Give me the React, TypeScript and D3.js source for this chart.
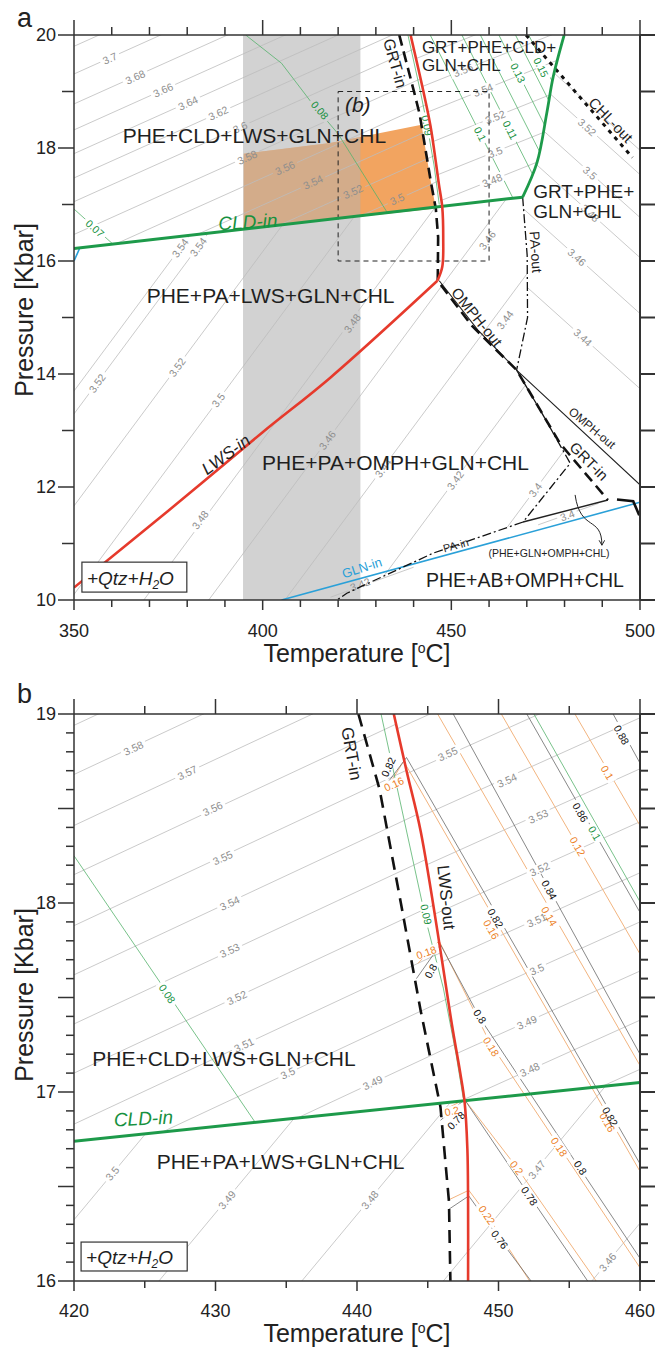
import React from 'react';
import * as d3 from 'd3';

type Pt = [number, number];
type Iso = { t: string; T: number; P: number; s?: number; a?: number };
type Txt = { t: string; T: number; P: number; a?: number; size: number; color?: string; italic?: boolean; anchor?: string; central?: boolean };

const W = 657;
const H = 1349;
const FONT = '"Liberation Sans", Arial, Helvetica, sans-serif';

const C_GRAY_LINE = '#bcbcbc';
const C_GRAY_TXT = '#8e8e8e';
const C_GREEN = '#1d9a4a';
const C_GREEN_THIN = '#55b36c';
const C_GREEN_TXT = '#17913f';
const C_RED = '#e63a2c';
const C_BLUE = '#2aa0d8';
const C_ORANGE_LINE = '#f2b47f';
const C_ORANGE_TXT = '#ec7f1f';
const C_INK = '#1f1f1f';

// ================= PANEL A =================
const aTempDomain: Pt = [350, 500];
const aPresDomain: Pt = [10, 20];
const aTempTicks = d3.range(350, 501, 10);
const aTempMajor = [350, 400, 450, 500];
const aPresTicks = d3.range(10, 21, 1);
const aPresLabels = [10, 12, 14, 16, 18, 20];

const aGrayBand: Pt = [394.8, 425.9];
const aOrange: Pt[] = [[395, 17.9], [417.9, 18.09], [442.1, 18.41], [444.5, 17.43], [445.9, 16.93], [395, 16.565]];

const aCldIn: Pt[] = [[350, 16.22], [468.9, 17.13]];
const aCldOut: Pt[] = [[468.9, 17.13], [472.7, 17.74], [475.3, 18.62], [477, 19.26], [479.9, 20]];
const aChlOut: Pt[] = [[469.8, 20], [498, 17.83]];
const aLwsIn: Pt[] = [[350, 10.22], [375, 11.58], [400, 12.97], [418, 13.94], [446.3, 15.65]];
const aLwsOut: Pt[] = [[446.3, 15.65], [447.6, 15.9], [447.85, 16.4], [447.6, 16.95], [446.7, 17.36], [446.0, 17.7], [444.5, 18.38], [442.6, 19.0], [439.2, 20]];
const aGrtIn: Pt[] = [[436.2, 20], [440.1, 19], [441.6, 18.6], [444.5, 17.43], [445.9, 16.92], [446.5, 16.42], [446.4, 15.65], [455.5, 14.85], [467.3, 14.07], [478.8, 12.77], [491.5, 11.77]];
const aGrtInEnd: Pt[] = [[493.9, 11.78], [498.2, 11.75], [499.8, 11.5]];
const aOmphOut: Pt[] = [[446.8, 15.65], [457, 14.78], [467.3, 14.07], [500, 12.04]];
const aPaLine: Pt[] = [[468.9, 17.13], [470.1, 16.1], [470.2, 15.0], [467.3, 14.07], [474.5, 13.25], [481.5, 12.42], [469, 11.38], [445.2, 10.83], [422.3, 10.12], [419.7, 10.0]];
const aSmallField: Pt[] = [[469, 11.38], [491.5, 11.77]];
const aGlnIn: Pt[] = [[405, 10.0], [500, 11.73]];
const aGlnCorner: Pt[] = [[350, 16.0], [351.6, 16.24]];
const aInset: Pt[] = [[420, 16], [460, 19]];
const aArrow: Pt[] = [[482.8, 11.86], [484.2, 11.2], [489.9, 11.5], [489.9, 10.97]];
const aQtzBox: Pt[] = [[352.1, 10.67], [379.9, 10.14]];

// density isopleth families (anchor points + common slope dP/dT)
const aUpperSlope = 0.03;
const aUpperAnchors: Pt[] = [20.3, 19.8, 19.31, 18.78, 18.32, 17.9, 17.47, 17.05, 16.47, 15.97, 15.49, 15.0, 14.52].map(p => [350, p] as Pt);
const aUpperClip: Pt[] = [[350, 16.22], [350, 20], [439.2, 20], [442.6, 19], [444.5, 18.38], [446, 17.7], [446.7, 17.36], [447.4, 16.97]];

const aGrtSlope = 0.0267;
const aGrtAnchors: Pt[] = [20.1, 19.56, 19.07, 18.51, 17.89, 17.41].map(p => [460, p] as Pt);
const aGrtClip: Pt[] = [[439.2, 20], [442.6, 19], [444.5, 18.38], [446, 17.7], [446.7, 17.36], [447.4, 16.97], [468.9, 17.13], [472.7, 17.74], [475.3, 18.62], [477, 19.26], [479.9, 20]];

const aSteepSlope = 0.09;
const aSteepAnchors: Pt[] = [308.9, 313.4, 331.5, 348.9, 368.5, 385.7, 405.9, 427.4, 450.5].map(t => [t, 10] as Pt);
const aSteepClip: Pt[] = [[350, 10], [350, 16.22], [468.9, 17.13], [470.1, 16.1], [470.2, 15.0], [467.3, 14.07], [481.5, 12.42], [469, 11.38], [445.2, 10.83], [422.3, 10.12], [419.7, 10]];

const aRightSlope = -0.06;
const aRightAnchors: Pt[] = [17.96, 17.53, 16.77, 16.06, 15.07, 13.74].map(p => [500, p] as Pt);
const aRightClip: Pt[] = [[468.9, 17.13], [472.7, 17.74], [475.3, 18.62], [477, 19.26], [479.9, 20], [500, 20], [500, 12.04], [467.3, 14.07], [470.2, 15.0], [470.1, 16.1]];

const aLowSegs: Pt[][] = [[[418, 10.05], [440, 10.58]], [[473, 11.33], [489, 11.71]]];

// CLD isopleths (green)
const aGreenSlope = -0.1316;
const aGreenAnchors: Pt[] = [444.4, 452.8, 457.7, 462.6, 467.0, 470.5].map(t => [t, 20] as Pt);
const aGreen007: Pt[] = [[350, 16.92], [360.3, 16.3]];
const aGreen008: Pt[] = [[395.5, 20], [405, 19.5], [413, 18.8], [420, 18.25], [433, 16.86]];
const aGreen009: Pt[] = [[438.5, 20], [441.8, 19], [443.6, 18.4], [445.4, 17.7], [446.8, 17.0]];

const aGrayLabels: Iso[] = [
  { t: '3.7', T: 359.5, P: 19.59, s: aUpperSlope }, { t: '3.68', T: 366.2, P: 19.26, s: aUpperSlope },
  { t: '3.66', T: 373.6, P: 19.03, s: aUpperSlope }, { t: '3.64', T: 380.2, P: 18.8, s: aUpperSlope },
  { t: '3.62', T: 388.2, P: 18.62, s: aUpperSlope }, { t: '3.6', T: 394, P: 18.37, s: aUpperSlope },
  { t: '3.58', T: 395.9, P: 17.84, s: aUpperSlope }, { t: '3.56', T: 405.9, P: 17.65, s: aUpperSlope },
  { t: '3.54', T: 413.3, P: 17.4, s: aUpperSlope }, { t: '3.52', T: 423.9, P: 17.23, s: aUpperSlope },
  { t: '3.5', T: 435.6, P: 17.1, s: aUpperSlope },
  { t: '3.56', T: 453.1, P: 19.38, s: aGrtSlope }, { t: '3.54', T: 458.4, P: 19.03, s: aGrtSlope },
  { t: '3.52', T: 461.6, P: 18.55, s: aGrtSlope }, { t: '3.5', T: 461.6, P: 17.93, s: aGrtSlope },
  { t: '3.48', T: 460.8, P: 17.43, s: aGrtSlope },
  { t: '3.54', T: 378.1, P: 16.23, s: aSteepSlope }, { t: '3.54', T: 382.9, P: 16.25, s: aSteepSlope },
  { t: '3.52', T: 356.1, P: 13.84, s: aSteepSlope }, { t: '3.52', T: 377.3, P: 14.12, s: aSteepSlope },
  { t: '3.5', T: 388.2, P: 13.54, s: aSteepSlope }, { t: '3.48', T: 383.4, P: 11.42, s: aSteepSlope },
  { t: '3.48', T: 423.7, P: 14.9, s: aSteepSlope }, { t: '3.46', T: 417.1, P: 12.83, s: aSteepSlope },
  { t: '3.46', T: 459.5, P: 16.37, s: aSteepSlope }, { t: '3.44', T: 431.9, P: 12.34, s: aSteepSlope },
  { t: '3.44', T: 464.2, P: 14.96, s: aSteepSlope }, { t: '3.42', T: 451, P: 12.12, s: aSteepSlope },
  { t: '3.4', T: 472.2, P: 11.95, s: aSteepSlope },
  { t: '3.52', T: 486, P: 18.37, s: aRightSlope }, { t: '3.5', T: 486.8, P: 17.56, s: aRightSlope },
  { t: '3.48', T: 486.8, P: 16.85, s: aRightSlope }, { t: '3.46', T: 483.3, P: 16.07, s: aRightSlope },
  { t: '3.44', T: 484.9, P: 14.65, s: aRightSlope },
  { t: '3.42', T: 425.8, P: 10.28, s: 0.024 }, { t: '3.4', T: 480.7, P: 11.5, s: 0.024 },
];
const aGreenLabels: Iso[] = [
  { t: '0.07', T: 355.6, P: 16.58, s: -0.06 }, { t: '0.08', T: 415.2, P: 18.67, s: -0.0786 },
  { t: '0.09', T: 443.6, P: 18.4, s: -0.36 }, { t: '0.1', T: 457.7, P: 18.25, s: aGreenSlope },
  { t: '0.11', T: 465.6, P: 18.32, s: aGreenSlope }, { t: '0.13', T: 467.7, P: 19.33, s: aGreenSlope },
  { t: '0.15', T: 473.8, P: 19.43, s: aGreenSlope },
];

const aFieldTexts: Txt[] = [
  { t: 'PHE+CLD+LWS+GLN+CHL', T: 397.8, P: 18.09, size: 21 },
  { t: 'PHE+PA+LWS+GLN+CHL', T: 402.1, P: 15.26, size: 21 },
  { t: 'PHE+PA+OMPH+GLN+CHL', T: 435.2, P: 12.3, size: 21 },
  { t: 'PHE+AB+OMPH+CHL', T: 469.5, P: 10.23, size: 19.5 },
  { t: '(PHE+GLN+OMPH+CHL)', T: 475.9, P: 10.76, size: 10.5 },
  { t: 'GRT+PHE+CLD+', T: 442.2, P: 19.68, size: 17, anchor: 'start' },
  { t: 'GLN+CHL', T: 442.2, P: 19.36, size: 17, anchor: 'start' },
  { t: 'GRT+PHE+', T: 471.7, P: 17.12, size: 19, anchor: 'start' },
  { t: 'GLN+CHL', T: 471.7, P: 16.76, size: 19, anchor: 'start' },
  { t: '(b)', T: 421.8, P: 18.64, size: 21, anchor: 'start', italic: true },
];
const aLineTexts: Txt[] = [
  { t: 'CLD-in', T: 396.1, P: 16.69, a: -3.5, size: 19, color: C_GREEN_TXT, italic: true },
  { t: 'LWS-in', T: 390.3, P: 12.57, a: -36, size: 17, italic: true },
  { t: 'GRT-in', T: 435.1, P: 19.5, a: 74, size: 16 },
  { t: 'CHL-out', T: 492.3, P: 18.5, a: 46, size: 15 },
  { t: 'PA-out', T: 472.4, P: 16.16, a: 86, size: 14 },
  { t: 'OMPH-out', T: 456.8, P: 15.01, a: 51, size: 15 },
  { t: 'OMPH-out', T: 487.3, P: 13.04, a: 40, size: 12 },
  { t: 'GRT-in', T: 486.5, P: 12.46, a: 45, size: 15 },
  { t: 'PA-in', T: 451.2, P: 10.97, a: -15, size: 11 },
  { t: 'GLN-in', T: 426.3, P: 10.57, a: -18, size: 13, color: C_BLUE },
];

// ================= PANEL B =================
const bTempDomain: Pt = [420, 460];
const bPresDomain: Pt = [16, 19];
const bTempTicks = d3.range(420, 461, 5);
const bTempMajor = [420, 430, 440, 450, 460];
const bPresTicks = d3.range(160, 191, 1).map(v => v / 10);
const bPresLabels = [16, 17, 18, 19];

const bCldIn: Pt[] = [[420, 16.74], [460, 17.05]];
const bLwsOut: Pt[] = [[442.6, 19], [443.5, 18.7], [444.5, 18.38], [446.0, 17.7], [446.7, 17.36], [447.3, 17.1], [447.6, 16.95], [447.8, 16.7], [447.85, 16.42], [447.85, 16.0]];
const bGrtIn: Pt[] = [[440.1, 19], [441.6, 18.6], [443.1, 18.0], [444.5, 17.43], [445.9, 16.92], [446.5, 16.42], [446.6, 16.0]];
const bQtzBox: Pt[] = [[420.5, 16.206], [428.0, 16.053]];

const bUpperSlope = 0.035;
const bUpperAnchors: Pt[] = [18.94, 18.68, 18.41, 18.15, 17.88, 17.62, 17.36, 17.1, 16.83, 16.57, 16.31].map(p => [420, p] as Pt);
const bUpperClip: Pt[] = [[420, 16.74], [420, 19], [442.6, 19], [443.5, 18.7], [444.5, 18.38], [446.0, 17.7], [446.7, 17.36], [447.3, 17.1], [447.6, 16.95]];
const bGrtSlope = 0.0337;
const bGrtAnchors: Pt[] = [19.5, 19.24, 18.98, 18.71, 18.43, 18.16, 17.9, 17.64, 17.38, 17.12].map(p => [460, p] as Pt);
const bGrtClip: Pt[] = [[442.6, 19], [443.5, 18.7], [444.5, 18.38], [446.0, 17.7], [446.7, 17.36], [447.3, 17.1], [447.6, 16.95], [460, 17.05], [460, 19]];
const bSteepSlope = 0.09;
const bSteepAnchors: Pt[] = [416.4, 426.0, 436.1, 446.1, 456.6].map(t => [t, 16] as Pt);
const bSteepClip: Pt[] = [[420, 16], [420, 16.74], [460, 17.05], [460, 16]];

const bOrange: Pt[][] = [
  [[455.4, 19], [460, 18.41]],
  [[450.2, 19], [460, 17.73]],
  [[445.7, 19], [460, 17.14]],
  [[441.9, 18.58], [443.3, 18.75], [460, 16.58]],
  [[444.3, 17.68], [445.8, 17.8], [449.4, 17.26], [454.3, 16.71], [460, 16.07]],
  [[446, 16.9], [447.6, 16.96], [451.3, 16.6], [456.9, 16.0]],
  [[446.5, 16.43], [447.9, 16.48], [449.2, 16.35], [452.2, 16.0]],
];
const bBlack: Pt[][] = [
  [[458.1, 19], [460, 18.74]],
  [[452, 19], [460, 17.95]],
  [[446.8, 19], [460, 17.2]],
  [[441.8, 18.6], [443.5, 18.77], [460, 16.62]],
  [[444.2, 17.6], [445.9, 17.78], [448.7, 17.39], [455.8, 16.59], [460, 16.12]],
  [[445.9, 16.85], [447.6, 16.96], [452.2, 16.45], [456.3, 16.0]],
  [[446.5, 16.38], [447.9, 16.45], [450.1, 16.22], [452.3, 16.0]],
];
const bGreen: Pt[][] = [
  [[420, 18.25], [432.8, 16.84]],
  [[441.7, 19], [443.3, 18.45], [444.9, 17.9], [446.1, 17.55], [447.0, 17.2], [447.5, 16.97]],
  [[452.5, 19], [460.2, 17.98]],
];

const bGrayLabels: Iso[] = [
  { t: '3.58', T: 424.2, P: 18.82, s: bUpperSlope }, { t: '3.57', T: 428.0, P: 18.69, s: bUpperSlope },
  { t: '3.56', T: 429.8, P: 18.5, s: bUpperSlope }, { t: '3.55', T: 430.5, P: 18.24, s: bUpperSlope },
  { t: '3.54', T: 431, P: 18.0, s: bUpperSlope }, { t: '3.53', T: 431, P: 17.75, s: bUpperSlope },
  { t: '3.52', T: 431.5, P: 17.5, s: bUpperSlope }, { t: '3.51', T: 432, P: 17.25, s: bUpperSlope },
  { t: '3.5', T: 435.1, P: 17.1, s: bUpperSlope }, { t: '3.49', T: 441.1, P: 17.05, s: bUpperSlope },
  { t: '3.55', T: 446.4, P: 18.79, s: bGrtSlope }, { t: '3.54', T: 450.6, P: 18.65, s: bGrtSlope },
  { t: '3.53', T: 452.8, P: 18.46, s: bGrtSlope }, { t: '3.52', T: 452.9, P: 18.18, s: bGrtSlope },
  { t: '3.51', T: 452.7, P: 17.91, s: bGrtSlope }, { t: '3.5', T: 452.7, P: 17.65, s: bGrtSlope },
  { t: '3.49', T: 452.0, P: 17.37, s: bGrtSlope }, { t: '3.48', T: 452.2, P: 17.12, s: bGrtSlope },
  { t: '3.5', T: 422.7, P: 16.57, s: bSteepSlope }, { t: '3.49', T: 430.8, P: 16.43, s: bSteepSlope },
  { t: '3.48', T: 440.9, P: 16.43, s: bSteepSlope }, { t: '3.47', T: 452.7, P: 16.59, s: bSteepSlope },
  { t: '3.46', T: 457.7, P: 16.1, s: bSteepSlope },
];
const bOrangeLabels: Iso[] = [
  { t: '0.1', T: 457.7, P: 18.69, s: -0.128 }, { t: '0.12', T: 455.6, P: 18.3, s: -0.13 },
  { t: '0.14', T: 453.6, P: 17.93, s: -0.13 }, { t: '0.16', T: 449.5, P: 17.86, s: -0.13 },
  { t: '0.16', T: 457.7, P: 16.84, s: -0.13 }, { t: '0.16', T: 442.6, P: 18.63, a: -25 },
  { t: '0.18', T: 444.9, P: 17.74, a: -20 }, { t: '0.18', T: 449.5, P: 17.24, s: -0.12 },
  { t: '0.18', T: 454.3, P: 16.71, s: -0.112 }, { t: '0.2', T: 446.7, P: 16.9, a: -12 },
  { t: '0.2', T: 451.3, P: 16.6, s: -0.1 }, { t: '0.22', T: 449.2, P: 16.35, s: -0.11 },
];
const bBlackLabels: Iso[] = [
  { t: '0.88', T: 458.7, P: 18.89, s: -0.137 }, { t: '0.86', T: 455.8, P: 18.48, s: -0.131 },
  { t: '0.84', T: 453.6, P: 18.07, s: -0.136 }, { t: '0.82', T: 449.8, P: 17.92, s: -0.13 },
  { t: '0.82', T: 457.9, P: 16.87, s: -0.13 }, { t: '0.82', T: 442.2, P: 18.72, a: -65 },
  { t: '0.8', T: 448.7, P: 17.4, s: -0.113 }, { t: '0.8', T: 455.8, P: 16.6, s: -0.113 },
  { t: '0.8', T: 445.2, P: 17.64, a: -60 }, { t: '0.78', T: 452.2, P: 16.45, s: -0.11 },
  { t: '0.78', T: 447.0, P: 16.85, a: -45 }, { t: '0.76', T: 450.1, P: 16.22, s: -0.1 },
];
const bGreenLabels: Iso[] = [
  { t: '0.08', T: 426.6, P: 17.52, s: -0.11 }, { t: '0.09', T: 444.9, P: 17.94, s: -0.33 },
  { t: '0.1', T: 456.8, P: 18.37, s: -0.132 },
];
const bFieldTexts: Txt[] = [
  { t: 'PHE+CLD+LWS+GLN+CHL', T: 430.6, P: 17.14, size: 21 },
  { t: 'PHE+PA+LWS+GLN+CHL', T: 434.6, P: 16.59, size: 21 },
];
const bLineTexts: Txt[] = [
  { t: 'CLD-in', T: 424.9, P: 16.86, a: -3, size: 19, color: C_GREEN_TXT, italic: true },
  { t: 'GRT-in', T: 439.6, P: 18.79, a: 80, size: 17 },
  { t: 'LWS-out', T: 446.3, P: 18.03, a: 84, size: 17 },
];

// ================= helpers =================
type Scale = d3.ScaleLinear<number, number>;

const through = (anchors: Pt[], s: number, t0: number, t1: number): Pt[][] =>
  anchors.map(([T, P]) => [[t0, P + s * (t0 - T)], [t1, P + s * (t1 - T)]] as Pt[]);

function mkLine(x: Scale, y: Scale) {
  return d3.line<Pt>().x(d => x(d[0])).y(d => y(d[1]));
}

function isoAngle(x: Scale, y: Scale, l: Iso) {
  if (l.a !== undefined) return l.a;
  const dx = x(l.T + 1) - x(l.T);
  const dy = y(l.P + (l.s || 0)) - y(l.P);
  return (Math.atan2(dy, dx) * 180) / Math.PI;
}

const ISO_SIZE = 10.5;

function MaskRects({ x, y, labels }: { x: Scale; y: Scale; labels: Iso[] }) {
  return (
    <>
      {labels.map((l, i) => {
        const w = l.t.length * ISO_SIZE * 0.56 + 3;
        const h = ISO_SIZE * 0.95;
        return (
          <rect key={i} x={-w / 2} y={-h / 2} width={w} height={h} fill="black"
            transform={`translate(${x(l.T)},${y(l.P)}) rotate(${isoAngle(x, y, l)})`} />
        );
      })}
    </>
  );
}

function IsoLabels({ x, y, labels, color }: { x: Scale; y: Scale; labels: Iso[]; color: string }) {
  return (
    <g fill={color} fontSize={ISO_SIZE}>
      {labels.map((l, i) => (
        <text key={i} textAnchor="middle" dominantBaseline="central"
          transform={`translate(${x(l.T)},${y(l.P)}) rotate(${isoAngle(x, y, l)})`}>{l.t}</text>
      ))}
    </g>
  );
}

function Clipped({ id, x, y, clip, lines, stroke, sw }: { id: string; x: Scale; y: Scale; clip: Pt[]; lines: Pt[][]; stroke: string; sw: number }) {
  const line = mkLine(x, y);
  return (
    <g>
      <defs><clipPath id={id}><path d={line(clip) + 'Z'} /></clipPath></defs>
      <g clipPath={`url(#${id})`}>
        {lines.map((l, i) => <path key={i} d={line(l) || ''} fill="none" stroke={stroke} strokeWidth={sw} />)}
      </g>
    </g>
  );
}

function Lines({ x, y, lines, stroke, sw }: { x: Scale; y: Scale; lines: Pt[][]; stroke: string; sw: number }) {
  const line = mkLine(x, y);
  return <g>{lines.map((l, i) => <path key={i} d={line(l) || ''} fill="none" stroke={stroke} strokeWidth={sw} />)}</g>;
}

function Texts({ x, y, items }: { x: Scale; y: Scale; items: Txt[] }) {
  return (
    <g>
      {items.map((d, i) => (
        <text key={i} textAnchor={(d.anchor as any) || 'middle'}
          dominantBaseline={d.a !== undefined ? 'central' : undefined}
          fontSize={d.size} fill={d.color || C_INK} fontStyle={d.italic ? 'italic' : 'normal'}
          transform={`translate(${x(d.T)},${y(d.P)})${d.a !== undefined ? ` rotate(${d.a})` : ''}`}>{d.t}</text>
      ))}
    </g>
  );
}

function QtzBox({ x, y, box }: { x: Scale; y: Scale; box: Pt[] }) {
  const x0 = x(box[0][0]), y0 = y(box[0][1]), x1 = x(box[1][0]), y1 = y(box[1][1]);
  return (
    <g>
      <rect x={x0} y={y0} width={x1 - x0} height={y1 - y0} fill="#fff" stroke="#333" strokeWidth={1.2} />
      <text x={x0 + 5} y={y1 - 7} fontSize={19} fontStyle="italic" fill={C_INK}>
        +Qtz+H<tspan fontSize={12} dy={4}>2</tspan><tspan dy={-4}>O</tspan>
      </text>
    </g>
  );
}

type AxCfg = {
  xTicks: number[]; xMajor: number[]; yTicks: number[]; yLabels: number[];
  isYMajor: (v: number) => boolean; leftMinor: number; rightMinor: number;
  xLabelBase: number; title: number; panel: string; panelY: number; yTitle: number;
};

function Axes({ x, y, c }: { x: Scale; y: Scale; c: AxCfg }) {
  const [L, R] = x.range();
  const top = y(y.domain()[1]);
  const bot = y(y.domain()[0]);
  const isMaj = (t: number) => c.xMajor.some(m => Math.abs(m - t) < 1e-6);
  return (
    <g>
      <g stroke="#333" strokeWidth={1.5} fill="none">
        <line x1={L} x2={R} y1={top} y2={top} />
        <line x1={L} x2={R} y1={bot} y2={bot} />
        <line x1={L} x2={L} y1={top} y2={bot} />
        <line x1={R} x2={R} y1={top} y2={bot} strokeWidth={2} />
        {c.xTicks.map(t => (
          <g key={'xt' + t}>
            <line x1={x(t)} x2={x(t)} y1={top} y2={top - (isMaj(t) ? 15 : 8)} />
            <line x1={x(t)} x2={x(t)} y1={bot} y2={bot + (isMaj(t) ? 10 : 7)} />
          </g>
        ))}
        {c.yTicks.map(v => (
          <g key={'yt' + v}>
            <line x1={L} x2={L - (c.isYMajor(v) ? 16 : c.leftMinor)} y1={y(v)} y2={y(v)} />
            <line x1={R} x2={R + (c.isYMajor(v) ? 15 : c.rightMinor)} y1={y(v)} y2={y(v)} strokeWidth={2} />
          </g>
        ))}
      </g>
      <g fontSize={18} fill="#222">
        {c.xMajor.map(t => <text key={'xl' + t} x={x(t)} y={c.xLabelBase} textAnchor="middle">{t}</text>)}
        {c.yLabels.map(v => <text key={'yl' + v} x={56} y={y(v)} textAnchor="end" dominantBaseline="central">{v}</text>)}
      </g>
      <text x={(L + R) / 2} y={c.title} textAnchor="middle" fontSize={25} fill="#222">
        Temperature [<tspan fontSize={14} dy={-9}>o</tspan><tspan dy={9}>C]</tspan>
      </text>
      <text transform={`translate(33,${c.yTitle}) rotate(-90)`} textAnchor="middle" fontSize={25} fill="#222">Pressure [Kbar]</text>
      <text x={17} y={c.panelY} fontSize={27} fill="#222">{c.panel}</text>
    </g>
  );
}

// ================= panels =================
function PanelA({ x, y }: { x: Scale; y: Scale }) {
  const line = mkLine(x, y);
  const smooth = mkLine(x, y).curve(d3.curveCatmullRom.alpha(0.5));
  const [L, R] = x.range();
  const top = y(20), bot = y(10);
  const allLabels = [...aGrayLabels, ...aGreenLabels];
  const a = aArrow.map(p => [x(p[0]), y(p[1])]);
  const gx0 = x(aGrayBand[0]), gw = x(aGrayBand[1]) - x(aGrayBand[0]);
  return (
    <g>
      <defs>
        <clipPath id="plotA"><rect x={L} y={top} width={R - L} height={bot - top} /></clipPath>
        <clipPath id="orangeA"><path d={line(aOrange) + 'Z'} /></clipPath>
        <mask id="maskA" maskUnits="userSpaceOnUse" x={0} y={0} width={W} height={H}>
          <rect x={0} y={0} width={W} height={H} fill="white" />
          <MaskRects x={x} y={y} labels={allLabels} />
        </mask>
        <marker id="arrA" viewBox="0 0 10 10" refX="8" refY="5" markerWidth="7" markerHeight="7" orient="auto">
          <path d="M1,1 L8,5 L1,9" fill="none" stroke="#222" strokeWidth={1.4} />
        </marker>
      </defs>
      <g clipPath="url(#plotA)">
        <rect x={gx0} y={top} width={gw} height={bot - top} fill="#d2d2d2" />
        <path d={line(aOrange) + 'Z'} fill="#f2a460" />
        <rect x={gx0} y={top} width={gw} height={bot - top} fill="#b4b4b4" opacity={0.5} clipPath="url(#orangeA)" />
        <g mask="url(#maskA)">
          <Clipped id="aUp" x={x} y={y} clip={aUpperClip} lines={through(aUpperAnchors, aUpperSlope, 340, 510)} stroke={C_GRAY_LINE} sw={0.8} />
          <Clipped id="aGrt" x={x} y={y} clip={aGrtClip} lines={through(aGrtAnchors, aGrtSlope, 430, 510)} stroke={C_GRAY_LINE} sw={0.8} />
          <Clipped id="aSteep" x={x} y={y} clip={aSteepClip} lines={through(aSteepAnchors, aSteepSlope, 300, 510)} stroke={C_GRAY_LINE} sw={0.8} />
          <Clipped id="aRight" x={x} y={y} clip={aRightClip} lines={through(aRightAnchors, aRightSlope, 460, 510)} stroke={C_GRAY_LINE} sw={0.8} />
          <Lines x={x} y={y} lines={aLowSegs} stroke={C_GRAY_LINE} sw={0.8} />
          <Clipped id="aGreenB" x={x} y={y} clip={aGrtClip} lines={through(aGreenAnchors, aGreenSlope, 430, 500)} stroke={C_GREEN_THIN} sw={0.8} />
          <Lines x={x} y={y} lines={[aGreen007, aGreen008, aGreen009]} stroke={C_GREEN_THIN} sw={0.8} />
        </g>
        <IsoLabels x={x} y={y} labels={aGrayLabels} color={C_GRAY_TXT} />
        <IsoLabels x={x} y={y} labels={aGreenLabels} color={C_GREEN_TXT} />
        <rect x={x(aInset[0][0])} y={y(aInset[1][1])} width={x(aInset[1][0]) - x(aInset[0][0])} height={y(aInset[0][1]) - y(aInset[1][1])}
          fill="none" stroke="#222" strokeWidth={1} strokeDasharray="5 4" />
        <path d={line(aGlnIn) || ''} fill="none" stroke={C_BLUE} strokeWidth={1.6} />
        <path d={line(aGlnCorner) || ''} fill="none" stroke={C_BLUE} strokeWidth={1.6} />
        <path d={line(aPaLine) || ''} fill="none" stroke="#111" strokeWidth={1.3} strokeDasharray="9 3 2 3" />
        <path d={line(aOmphOut) || ''} fill="none" stroke="#222" strokeWidth={1.1} />
        <path d={line(aSmallField) || ''} fill="none" stroke="#222" strokeWidth={1.4} />
        <path d={line(aGrtIn) || ''} fill="none" stroke="#111" strokeWidth={2.6} strokeDasharray="11 6" />
        <path d={line(aGrtInEnd) || ''} fill="none" stroke="#111" strokeWidth={2.6} />
        <path d={line(aChlOut) || ''} fill="none" stroke="#111" strokeWidth={3} strokeDasharray="4 5" />
        <path d={line(aCldIn) || ''} fill="none" stroke={C_GREEN} strokeWidth={3} />
        <path d={smooth(aCldOut) || ''} fill="none" stroke={C_GREEN} strokeWidth={2.8} />
        <path d={smooth(aLwsIn) || ''} fill="none" stroke={C_RED} strokeWidth={2.6} />
        <path d={smooth(aLwsOut) || ''} fill="none" stroke={C_RED} strokeWidth={2.6} />
        <path d={`M${a[0][0]},${a[0][1]} C${a[1][0]},${a[1][1]} ${a[2][0]},${a[2][1]} ${a[3][0]},${a[3][1]}`}
          fill="none" stroke="#222" strokeWidth={1} markerEnd="url(#arrA)" />
      </g>
      <Texts x={x} y={y} items={aFieldTexts} />
      <Texts x={x} y={y} items={aLineTexts} />
      <QtzBox x={x} y={y} box={aQtzBox} />
      <Axes x={x} y={y} c={{
        xTicks: aTempTicks, xMajor: aTempMajor, yTicks: aPresTicks, yLabels: aPresLabels,
        isYMajor: v => v % 2 === 0, leftMinor: 12, rightMinor: 15,
        xLabelBase: 637, title: 662, panel: 'a', panelY: 27, yTitle: 310,
      }} />
    </g>
  );
}

function PanelB({ x, y }: { x: Scale; y: Scale }) {
  const line = mkLine(x, y);
  const smooth = mkLine(x, y).curve(d3.curveCatmullRom.alpha(0.5));
  const [L, R] = x.range();
  const top = y(19), bot = y(16);
  const allLabels = [...bGrayLabels, ...bOrangeLabels, ...bBlackLabels, ...bGreenLabels];
  return (
    <g>
      <defs>
        <clipPath id="plotB"><rect x={L} y={top} width={R - L} height={bot - top} /></clipPath>
        <mask id="maskB" maskUnits="userSpaceOnUse" x={0} y={0} width={W} height={H}>
          <rect x={0} y={0} width={W} height={H} fill="white" />
          <MaskRects x={x} y={y} labels={allLabels} />
        </mask>
      </defs>
      <g clipPath="url(#plotB)">
        <g mask="url(#maskB)">
          <Clipped id="bUp" x={x} y={y} clip={bUpperClip} lines={through(bUpperAnchors, bUpperSlope, 415, 465)} stroke={C_GRAY_LINE} sw={0.8} />
          <Clipped id="bGrt" x={x} y={y} clip={bGrtClip} lines={through(bGrtAnchors, bGrtSlope, 435, 465)} stroke={C_GRAY_LINE} sw={0.8} />
          <Clipped id="bSteep" x={x} y={y} clip={bSteepClip} lines={through(bSteepAnchors, bSteepSlope, 410, 465)} stroke={C_GRAY_LINE} sw={0.8} />
          <Lines x={x} y={y} lines={bOrange} stroke={C_ORANGE_LINE} sw={1} />
          <Lines x={x} y={y} lines={bBlack} stroke="#6a6a6a" sw={0.8} />
          <Lines x={x} y={y} lines={bGreen} stroke={C_GREEN_THIN} sw={0.8} />
        </g>
        <IsoLabels x={x} y={y} labels={bGrayLabels} color={C_GRAY_TXT} />
        <IsoLabels x={x} y={y} labels={bOrangeLabels} color={C_ORANGE_TXT} />
        <IsoLabels x={x} y={y} labels={bBlackLabels} color="#111" />
        <IsoLabels x={x} y={y} labels={bGreenLabels} color={C_GREEN_TXT} />
        <path d={line(bGrtIn) || ''} fill="none" stroke="#111" strokeWidth={2.6} strokeDasharray="13 8" />
        <path d={line(bCldIn) || ''} fill="none" stroke={C_GREEN} strokeWidth={3} />
        <path d={smooth(bLwsOut) || ''} fill="none" stroke={C_RED} strokeWidth={2.6} />
      </g>
      <Texts x={x} y={y} items={bFieldTexts} />
      <Texts x={x} y={y} items={bLineTexts} />
      <QtzBox x={x} y={y} box={bQtzBox} />
      <Axes x={x} y={y} c={{
        xTicks: bTempTicks, xMajor: bTempMajor, yTicks: bPresTicks, yLabels: bPresLabels,
        isYMajor: v => Math.abs(v * 2 - Math.round(v * 2)) < 1e-6, leftMinor: 8, rightMinor: 8,
        xLabelBase: 1317, title: 1342, panel: 'b', panelY: 703, yTitle: 995,
      }} />
    </g>
  );
}

export default function App() {
  const ax = d3.scaleLinear().domain(aTempDomain).range([74, 640]);
  const ay = d3.scaleLinear().domain(aPresDomain).range([600, 35]);
  const bx = d3.scaleLinear().domain(bTempDomain).range([74, 640]);
  const by = d3.scaleLinear().domain(bPresDomain).range([1281, 714]);
  return (
    <svg width={W} height={H} viewBox={`0 0 ${W} ${H}`} fontFamily={FONT}
      style={{ position: 'absolute', left: 0, top: 0, display: 'block', background: '#fff' }}>
      <PanelA x={ax} y={ay} />
      <PanelB x={bx} y={by} />
    </svg>
  );
}
